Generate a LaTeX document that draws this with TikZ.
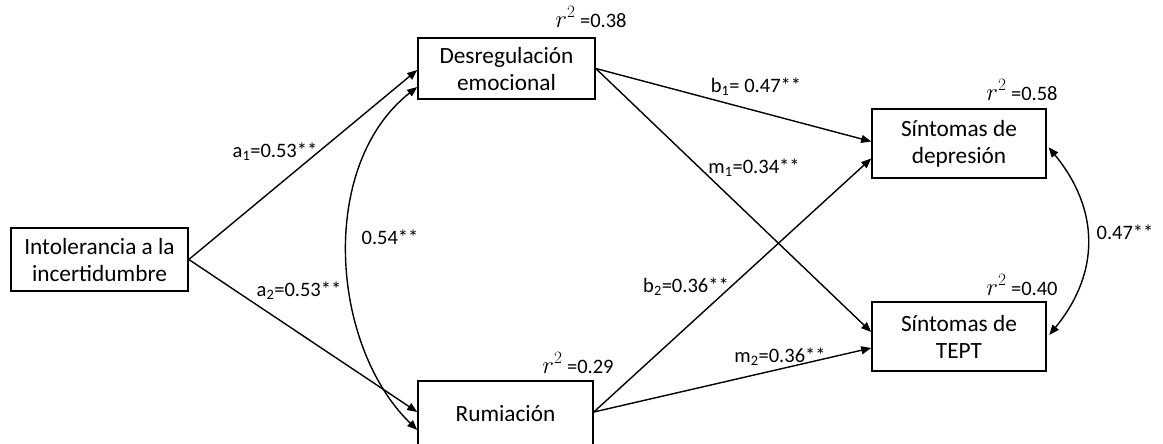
\documentclass[tikz,border=0pt]{standalone}
\usepackage{fontspec}
\setmainfont{Carlito}
\usetikzlibrary{arrows.meta}
\newcommand{\rsq}{{\fontsize{25}{28}\selectfont$r^{2}$}}
\begin{document}
\begin{tikzpicture}[x=1pt,y=-1pt,
  box/.style={draw, line width=1.6pt, align=center, inner sep=0pt, font=\fontsize{23.3}{27}\selectfont},
  lbl/.style={inner sep=0pt, font=\fontsize{20.5}{24}\selectfont},
  arr/.style={line width=1.4pt, -{Triangle[length=10pt,width=8pt]}},
  biarr/.style={line width=1.4pt, {Triangle[length=10pt,width=8pt]}-{Triangle[length=10pt,width=8pt]}},
]
\useasboundingbox (0,0) rectangle (1163,444);
% boxes
\node[box, minimum width=177pt, minimum height=63pt] (intol) at (99.5,259.5) {Intolerancia a la\\incertidumbre};
\node[box, minimum width=177pt, minimum height=61pt] (desreg) at (506.5,68.5) {Desregulación\\emocional};
\node[box, minimum width=175pt, minimum height=65pt] (rum) at (505.5,413.5) {Rumiación};
\node[box, minimum width=174pt, minimum height=69pt] (dep) at (959,143.5) {Síntomas de\\depresión};
\node[box, minimum width=174pt, minimum height=69pt] (tept) at (959,336.5) {Síntomas de\\TEPT};
% paths
\draw[arr] (intol.east) -- ([yshift=-1.5pt]desreg.west);
\draw[arr] (intol.east) -- ([yshift=1.5pt]rum.west);
\draw[arr] (desreg.east) -- ([yshift=2pt]dep.west);
\draw[arr] (desreg.east) -- ([yshift=4.5pt]tept.west);
\draw[arr] ([yshift=1.5pt]rum.east) -- ([yshift=-15pt]dep.west);
\draw[arr] ([yshift=1.5pt]rum.east) -- ([yshift=-11.5pt]tept.west);
\coordinate (c1) at (318,165);
\coordinate (c2) at (330,345);
\draw[biarr] ([yshift=-18.5pt]desreg.west) .. controls (c1) and (c2) .. ([yshift=-16.5pt]rum.west);
\coordinate (c3) at (1100,210);
\coordinate (c4) at (1100,273);
\draw[biarr, shorten <=3pt, shorten >=4pt] ([yshift=-1.5pt]dep.east) .. controls (c3) and (c4) .. ([yshift=-1.5pt]tept.east);
% labels
\node[lbl] (la1) at (275,152) {a\textsubscript{1}=0.53**};
\node[lbl] (la2) at (299,291) {a\textsubscript{2}=0.53**};
\node[lbl] (lc1) at (390,237) {0.54**};
\node[lbl] (lb1) at (756,87) {b\textsubscript{1}= 0.47**};
\node[lbl] (lm1) at (754,168) {m\textsubscript{1}=0.34**};
\node[lbl] (lb2) at (686,287) {b\textsubscript{2}=0.36**};
\node[lbl] (lm2) at (780,357) {m\textsubscript{2}=0.36**};
\node[lbl] (lc2) at (1125,232) {0.47**};
\node[lbl] (r1) at (591,17) {\rsq\ =0.38};
\node[lbl] (r2) at (1022,90) {\rsq\ =0.58};
\node[lbl] (r3) at (1022,285) {\rsq\ =0.40};
\node[lbl] (r4) at (578,363) {\rsq\ =0.29};
\end{tikzpicture}
\end{document}
